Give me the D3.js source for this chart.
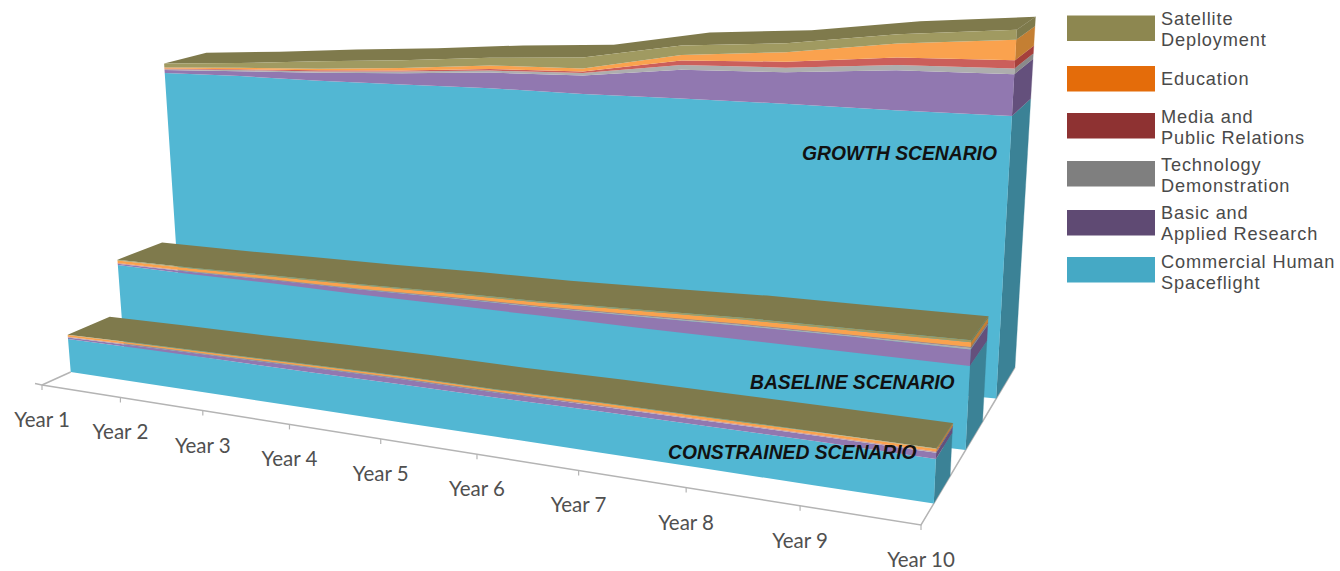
<!DOCTYPE html>
<html>
<head>
<meta charset="utf-8">
<script src="https://cdn.jsdelivr.net/npm/d3@7"></script>
<style>
html, body { margin: 0; padding: 0; background: #fff; }
svg { display: block; }
.yearLabel { font-family: Lato, sans-serif; font-size: 20.5px; fill: #505050; text-anchor: middle; }
.legendLabel { font-family: "Liberation Sans", sans-serif; font-size: 18.2px; letter-spacing: 0.85px; fill: #4a4a4a; }
.scenarioLabel { font-family: "Liberation Sans", sans-serif; font-size: 19.3px; font-weight: bold; font-style: italic; fill: #111; }
</style>
</head>
<body>
<script>
//categories
var years = ["Year 1", "Year 2", "Year 3", "Year 4", "Year 5", "Year 6", "Year 7", "Year 8", "Year 9", "Year 10"];
var seriesNames = ["Commercial Human Spaceflight", "Basic and Applied Research", "Technology Demonstration", "Media and Public Relations", "Education", "Satellite Deployment"];
var legendLines = [["Satellite", "Deployment"], ["Education"], ["Media and", "Public Relations"], ["Technology", "Demonstration"], ["Basic and", "Applied Research"], ["Commercial Human", "Spaceflight"]];

//values, no axis in the original so units are arbitrary
var growthCommercial = [685, 679, 670, 664, 659, 650, 645, 640, 633, 629];
var growthResearch = [8, 13, 21, 29, 39, 45, 69, 73, 91, 93];
var growthTech = [2, 3, 3, 4, 5, 6, 11, 11, 12, 13];
var growthMedia = [2, 2, 3, 3, 4, 4, 11, 14, 17, 18];
var growthEducation = [3, 4, 4, 6, 9, 7, 13, 22, 32, 46];
var growthSatellite = [11, 13, 20, 20, 19, 27, 23, 21, 21, 22];

var baselineCommercial = [219, 212, 208, 201, 196, 191, 185, 181, 177, 173];
var baselineResearch = [3, 6, 8, 12, 16, 19, 25, 30, 33, 34];
var baselineTech = [1, 1, 1, 1, 2, 2, 3, 3, 3, 4];
var baselineMedia = [1, 1, 1, 1, 1, 1, 1, 1, 1, 1];
var baselineEducation = [7, 7, 7, 8, 8, 8, 9, 10, 9, 10];
var baselineSatellite = [2, 2, 3, 3, 3, 3, 3, 4, 4, 4];

var constrainedCommercial = [84, 85, 85, 85, 86, 86, 87, 87, 87, 85];
var constrainedResearch = [4, 6, 8, 11, 12, 11, 11, 11, 11, 12];
var constrainedTech = [1, 1, 1, 1, 1, 1, 1, 1, 1, 1];
var constrainedMedia = [1, 1, 1, 1, 1, 1, 1, 1, 1, 1];
var constrainedEducation = [4, 4, 4, 4, 4, 4, 5, 5, 5, 5];
var constrainedSatellite = [1, 1, 1, 1, 1, 1, 1, 1, 1, 1];

//colors, same order as seriesNames
var frontColors = ["#52b7d3", "#9178b0", "#aeaeae", "#cb5f5b", "#faa24e", "#a09a61"];
var sideColors = ["#3b8296", "#64507c", "#8a8a8a", "#a5403c", "#c47f33", "#7e7a4c"];
var legendColors = ["#8d8750", "#e46c0a", "#8e3232", "#7f7f7f", "#5f4a73", "#45a9c5"];
var topColor = "#7f7a4c";

//chart frame dimensions
var width = 1340,
    height = 571,
    perspectiveK = 1.276,   //year spacing widens toward the viewer
    leanCenter = 622,       //verticals fan out from this x
    leanRate = 0.000149;

//legend rows, swatch top and first text baseline
var legendTops = [15.5, 66, 113, 161, 210, 257],
    legendBaselines = [25, 85, 123, 170.5, 218.5, 268];

//scales
var xScale = d3.scalePoint().domain(years).range([0, 1]);
var yScale = d3.scaleLinear().domain([0, 1000]).range([0, 400]);
var leftX = d3.scaleLinear().domain([0, 1]).range([42, 225]);
var leftY = d3.scaleLinear().domain([0, 1]).range([385, 302]);
var rightX = d3.scaleLinear().domain([0, 1]).range([921, 1015]);
var rightY = d3.scaleLinear().domain([0, 1]).range([525, 367]);

//depth of each ribbon, front and back, at the left and right ends
var scenarios = [
    {label: "GROWTH SCENARIO", labelX: 802, labelY: 160, frontL: 0.76, backL: 0.98, frontR: 0.80, backR: 1.0,
     values: [growthCommercial, growthResearch, growthTech, growthMedia, growthEducation, growthSatellite]},
    {label: "BASELINE SCENARIO", labelX: 750, labelY: 389, frontL: 0.448, backL: 0.688, frontR: 0.474, backR: 0.655,
     values: [baselineCommercial, baselineResearch, baselineTech, baselineMedia, baselineEducation, baselineSatellite]},
    {label: "CONSTRAINED SCENARIO", labelX: 668, labelY: 459, frontL: 0.157, backL: 0.385, frontR: 0.136, backR: 0.31,
     values: [constrainedCommercial, constrainedResearch, constrainedTech, constrainedMedia, constrainedEducation, constrainedSatellite]}
];

//year position along the front, 0 to 1
function yearFraction(year){
    var s = xScale(year);
    return s / (s + perspectiveK * (1 - s));
};

//3d position to pixels
function project(year, value, depthL, depthR){
    var t = yearFraction(year);
    var d = depthL + (depthR - depthL) * t;
    var gx = leftX(depthL) + (rightX(depthR) - leftX(depthL)) * t;
    var gy = leftY(depthL) + (rightY(depthR) - leftY(depthL)) * t;
    var h = yScale(value) * (1 + 0.35 * t) * (1 - (0.12 + 0.09 * t) * d);
    return [gx + (gx - leanCenter) * leanRate * h, gy - h];
};

var svg = d3.select("body")
    .append("svg")
    .attr("width", width)
    .attr("height", height);

drawFloor();
scenarios.forEach(drawScenario);
drawLegend();

//floor lines, ticks and year labels
function drawFloor(){
    var floor = svg.append("g").attr("class", "floor");
    var first = project(years[0], 0, 0, 0);

    floor.append("path")
        .attr("d", d3.line()([[first[0] - 7, first[1] - 1.5], first, project(years[9], 0, 0, 0), project(years[9], 0, 1, 1)]))
        .attr("fill", "none")
        .attr("stroke", "#b4b4b4")
        .attr("stroke-width", 1.5);

    floor.append("path")
        .attr("d", d3.line()([first, project(years[0], 0, 0.157, 0.136)]))
        .attr("fill", "none")
        .attr("stroke", "#b4b4b4")
        .attr("stroke-width", 1.5);

    floor.selectAll(".tick")
        .data(years)
        .enter()
        .append("line")
        .attr("class", "tick")
        .attr("x1", function(d){ return project(d, 0, 0, 0)[0]; })
        .attr("x2", function(d){ return project(d, 0, 0, 0)[0]; })
        .attr("y1", function(d){ return project(d, 0, 0, 0)[1]; })
        .attr("y2", function(d){ return project(d, 0, 0, 0)[1] + 5; })
        .attr("stroke", "#b4b4b4")
        .attr("stroke-width", 1.2);

    floor.selectAll(".yearLabel")
        .data(years)
        .enter()
        .append("text")
        .attr("class", "yearLabel")
        .attr("x", function(d){ return project(d, 0, 0, 0)[0]; })
        .attr("y", function(d){ return project(d, 0, 0, 0)[1] + 42; })
        .text(function(d){ return d; });
};

//one ribbon: right side, top surface, front bands
function drawScenario(scenario){
    var group = svg.append("g").attr("class", "scenario");

    //build rows for d3.stack from the value arrays
    var rows = years.map(function(year, i){
        var row = {year: year};
        seriesNames.forEach(function(name, s){ row[name] = scenario.values[s][i]; });
        return row;
    });
    var stacked = d3.stack().keys(seriesNames)(rows);
    var lastYear = years[years.length - 1];

    //right side faces
    stacked.forEach(function(layer, s){
        var p = layer[layer.length - 1];
        group.append("path")
            .attr("d", d3.line()([
                project(lastYear, p[0], scenario.frontL, scenario.frontR),
                project(lastYear, p[1], scenario.frontL, scenario.frontR),
                project(lastYear, p[1], scenario.backL, scenario.backR),
                project(lastYear, p[0], scenario.backL, scenario.backR)
            ]))
            .attr("fill", sideColors[s])
            .attr("stroke", sideColors[s])
            .attr("stroke-width", 0.3);
    });

    //top surface, from the front edge of the stack back to the rear edge
    var topLayer = stacked[stacked.length - 1];
    var topArea = d3.area()
        .x0(function(d){ return project(d.data.year, d[1], scenario.frontL, scenario.frontR)[0]; })
        .y0(function(d){ return project(d.data.year, d[1], scenario.frontL, scenario.frontR)[1]; })
        .x1(function(d){ return project(d.data.year, d[1], scenario.backL, scenario.backR)[0]; })
        .y1(function(d){ return project(d.data.year, d[1], scenario.backL, scenario.backR)[1]; });
    group.append("path")
        .attr("d", topArea(topLayer))
        .attr("fill", topColor);

    //front bands
    var frontArea = d3.area()
        .x0(function(d){ return project(d.data.year, d[0], scenario.frontL, scenario.frontR)[0]; })
        .y0(function(d){ return project(d.data.year, d[0], scenario.frontL, scenario.frontR)[1]; })
        .x1(function(d){ return project(d.data.year, d[1], scenario.frontL, scenario.frontR)[0]; })
        .y1(function(d){ return project(d.data.year, d[1], scenario.frontL, scenario.frontR)[1]; });
    group.selectAll(".band")
        .data(stacked)
        .enter()
        .append("path")
        .attr("class", "band")
        .attr("d", frontArea)
        .attr("fill", function(d, s){ return frontColors[s]; });

    group.append("text")
        .attr("class", "scenarioLabel")
        .attr("x", scenario.labelX)
        .attr("y", scenario.labelY)
        .text(scenario.label);
};

//legend swatches and two line labels
function drawLegend(){
    var items = svg.selectAll(".legendItem")
        .data(legendLines)
        .enter()
        .append("g")
        .attr("class", "legendItem");

    items.append("rect")
        .attr("x", 1067)
        .attr("y", function(d, i){ return legendTops[i]; })
        .attr("width", 88)
        .attr("height", 25.5)
        .attr("fill", function(d, i){ return legendColors[i]; });

    //one text element per label, lines as tspans
    items.append("text")
        .attr("class", "legendLabel")
        .attr("y", function(d, i){ return legendBaselines[i]; })
        .selectAll("tspan")
        .data(function(d){ return d; })
        .enter()
        .append("tspan")
        .attr("x", 1161)
        .attr("dy", function(d, i){ return i == 0 ? 0 : 21; })
        .text(function(d){ return d; });
};
</script>
</body>
</html>
